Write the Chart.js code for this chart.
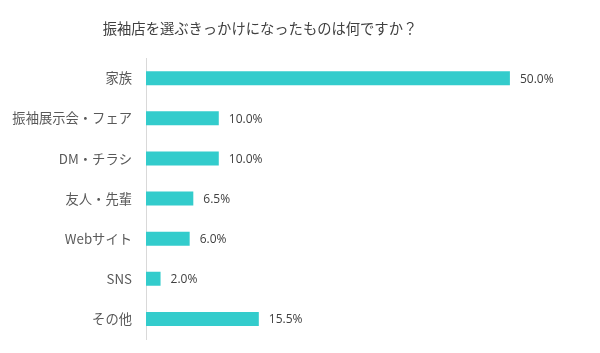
<!DOCTYPE html>
<html lang="ja">
<head>
  <meta charset="UTF-8">
  <title>振袖店を選ぶきっかけ</title>
  <script src="https://cdn.jsdelivr.net/npm/chart.js"></script>
  <style>
    html, body { margin: 0; padding: 0; background: #fff; }
    #wrap { width: 600px; height: 353px; }
  </style>
</head>
<body>
  <div id="wrap"><canvas id="grafica"></canvas></div>

  <script>
    // 回答項目と割合(%)
    const categorias = ['家族', '振袖展示会・フェア', 'DM・チラシ', '友人・先輩', 'Webサイト', 'SNS', 'その他'];
    const valores = [50.0, 10.0, 10.0, 6.5, 6.0, 2.0, 15.5];

    // バーの右に値を描く
    const etiquetas = {
      id: 'etiquetas',
      afterDatasetsDraw(chart) {
        const { ctx } = chart;
        const meta = chart.getDatasetMeta(0);
        ctx.save();
        ctx.font = '12px "Open Sans", sans-serif';
        ctx.fillStyle = '#404040';
        ctx.textAlign = 'left';
        ctx.textBaseline = 'middle';
        meta.data.forEach((bar, i) => {
          ctx.fillText(valores[i].toFixed(1) + '%', bar.x + 10, bar.y + 1);
        });
        ctx.restore();
      }
    };

    new Chart(document.getElementById('grafica'), {
      type: 'bar',
      data: {
        labels: categorias,
        datasets: [{
          data: valores,
          backgroundColor: '#33cccc',
          barPercentage: 0.7,
          categoryPercentage: 0.5
        }]
      },
      options: {
        indexAxis: 'y',
        responsive: true,
        maintainAspectRatio: false,
        animation: false,
        layout: { padding: { left: 5, right: 85, top: 0, bottom: 10 } },
        plugins: {
          legend: { display: false },
          tooltip: { enabled: false },
          title: {
            display: true,
            text: '振袖店を選ぶきっかけになったものは何ですか？',
            color: '#404040',
            font: { family: '"Noto Sans CJK JP", sans-serif', size: 14.3, weight: 'normal' },
            padding: { top: 20, bottom: 21 }
          }
        },
        scales: {
          x: {
            display: false,
            min: 0,
            max: 50.7
          },
          y: {
            grid: { display: false },
            border: { display: true, color: '#d9d9d9', width: 1 },
            ticks: {
              color: '#595959',
              padding: 6,
              font: { family: '"Noto Sans CJK JP", sans-serif', size: 13.3 }
            },
            afterFit(scale) { scale.width = 141; }
          }
        }
      },
      plugins: [etiquetas]
    });
  </script>
</body>
</html>
